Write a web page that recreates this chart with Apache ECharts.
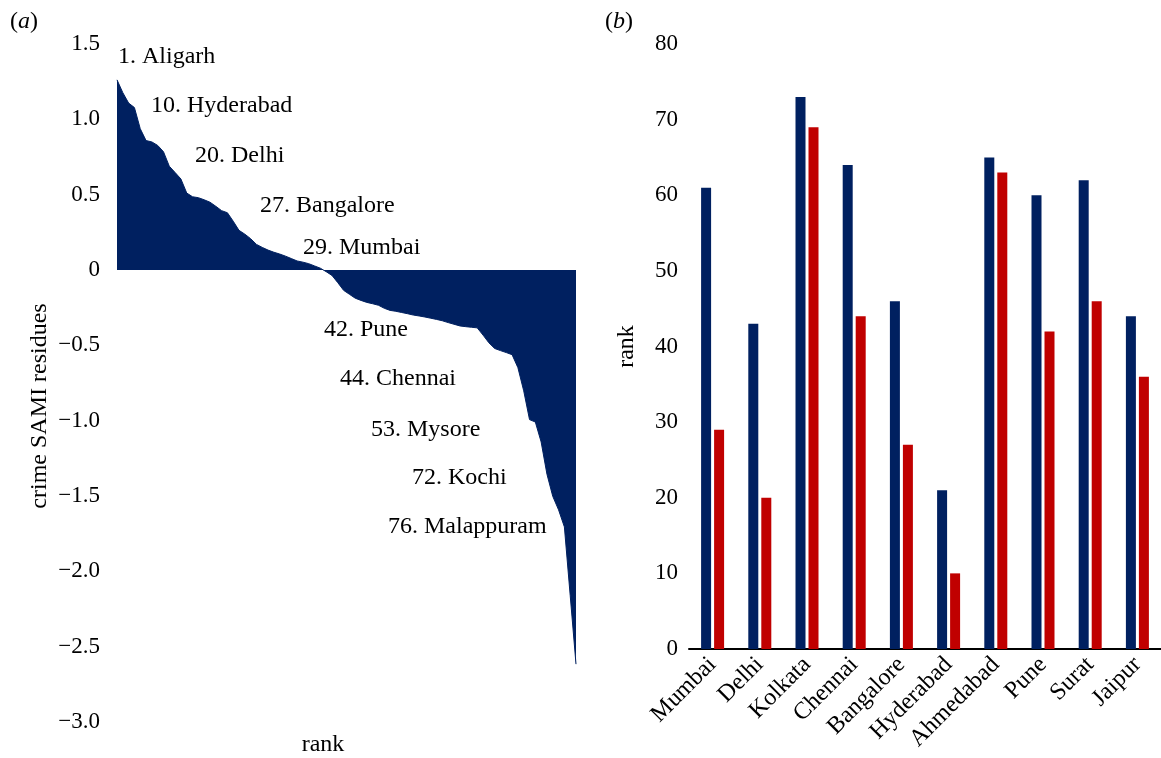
<!DOCTYPE html>
<html>
<head>
<meta charset="utf-8">
<title>Crime SAMI residues and city ranks</title>
<script src="https://cdn.jsdelivr.net/npm/echarts@6/dist/echarts.min.js"></script>
<style>
  html, body { margin: 0; padding: 0; background: #fff; }
  #chart { width: 1161px; height: 758px; }
</style>
</head>
<body>
<div id="chart"></div>
<script>
// Panel (a): crime SAMI residues for each city, sorted by rank
const samiResidues = [
  1.262, 1.177, 1.108, 1.078, 0.938, 0.859, 0.850, 0.827, 0.785, 0.689,
  0.647, 0.604, 0.511, 0.486, 0.480, 0.466, 0.450, 0.423, 0.394, 0.380,
  0.324, 0.263, 0.238, 0.208, 0.170, 0.150, 0.132, 0.118, 0.106, 0.092,
  0.076, 0.060, 0.052, 0.042, 0.027, 0.012, -0.011, -0.036, -0.084, -0.135,
  -0.161, -0.187, -0.202, -0.215, -0.224, -0.234, -0.254, -0.268, -0.274, -0.282,
  -0.290, -0.299, -0.305, -0.312, -0.320, -0.328, -0.337, -0.349, -0.360, -0.371,
  -0.376, -0.380, -0.384, -0.432, -0.483, -0.521, -0.535, -0.548, -0.562, -0.648,
  -0.802, -0.993, -1.009, -1.141, -1.355, -1.502, -1.592, -1.705, -2.160, -2.616
];
const ranks = samiResidues.map((_, i) => String(i + 1));

// Highlighted cities on panel (a)
const noteRanks = [1, 10, 20, 27, 29, 42, 44, 53, 72, 76];
const noteCities = ['Aligarh', 'Hyderabad', 'Delhi', 'Bangalore', 'Mumbai',
                    'Pune', 'Chennai', 'Mysore', 'Kochi', 'Malappuram'];

// Panel (b): ranks of the ten largest cities
const cities = ['Mumbai', 'Delhi', 'Kolkata', 'Chennai', 'Bangalore',
                'Hyderabad', 'Ahmedabad', 'Pune', 'Surat', 'Jaipur'];
const rankBlue = [61, 43, 73, 64, 46, 21, 65, 60, 62, 44];
const rankRed  = [29, 20, 69, 44, 27, 10, 63, 42, 46, 36];

const NAVY = '#002060';
const RED = '#C00000';
const FONT = '"Liberation Serif", "DejaVu Serif", serif';
const FS = 24;      // annotations, titles, category labels
const FS_TICK = 23; // value-axis tick labels

// Label placement for the panel (a) notes (left edge, vertical centre)
const notePlaces = [
  [118, 57], [151, 106], [195, 156], [260, 206], [303, 248],
  [324, 330], [340, 379], [371, 430], [412, 478], [388, 527]
];

function fmtResidue(v) {
  if (v === 0) return '0';
  return (v < 0 ? '\u2212' : '') + Math.abs(v).toFixed(1);
}

const textBase = { fontFamily: FONT, fontSize: FS, fill: '#000' };

const graphics = noteRanks.map((r, i) => ({
  type: 'text',
  x: notePlaces[i][0],
  y: notePlaces[i][1],
  style: Object.assign({ text: r + '. ' + noteCities[i], verticalAlign: 'middle', align: 'left' }, textBase)
}));

function panelTag(letter, x) {
  return {
    type: 'text', x: x, y: 22,
    style: {
      text: '({i|' + letter + '})', verticalAlign: 'middle', align: 'left',
      fontFamily: FONT, fontSize: FS, fill: '#000',
      rich: { i: { fontFamily: FONT, fontSize: FS, fontStyle: 'italic', fill: '#000' } }
    }
  };
}

graphics.push(
  {
    type: 'text', x: 40, y: 406, rotation: Math.PI / 2,
    style: Object.assign({ text: 'crime SAMI residues', align: 'center', verticalAlign: 'middle' }, textBase)
  },
  {
    type: 'text', x: 323, y: 745,
    style: Object.assign({ text: 'rank', align: 'center', verticalAlign: 'middle' }, textBase)
  },
  panelTag('a', 10),
  panelTag('b', 605)
);

const chart = echarts.init(document.getElementById('chart'), null, { renderer: 'canvas' });

chart.setOption({
  backgroundColor: '#fff',
  animation: false,
  textStyle: { fontFamily: FONT },
  grid: [
    { left: 117, top: 44, width: 459, height: 678 },
    { left: 689, top: 44, width: 472, height: 605 }
  ],
  xAxis: [
    {
      gridIndex: 0, type: 'category', data: ranks, boundaryGap: false,
      axisLine: { show: false }, axisTick: { show: false }, axisLabel: { show: false },
      splitLine: { show: false }
    },
    {
      gridIndex: 1, type: 'category', data: cities,
      axisLine: { show: true, lineStyle: { color: '#000', width: 2 } },
      axisTick: { show: false },
      axisLabel: {
        rotate: 45, margin: 12, interval: 0,
        fontFamily: FONT, fontSize: FS, color: '#000'
      },
      splitLine: { show: false }
    }
  ],
  yAxis: [
    {
      gridIndex: 0, type: 'value', min: -3, max: 1.5, interval: 0.5,
      axisLine: { show: false }, axisTick: { show: false }, splitLine: { show: false },
      axisLabel: {
        margin: 17, fontFamily: FONT, fontSize: FS_TICK, color: '#000',
        formatter: fmtResidue
      }
    },
    {
      gridIndex: 1, type: 'value', min: 0, max: 80, interval: 10,
      name: 'rank', nameLocation: 'middle', nameGap: 50, nameRotate: 90,
      nameTextStyle: { fontFamily: FONT, fontSize: FS, color: '#000' },
      axisLine: { show: false }, axisTick: { show: false }, splitLine: { show: false },
      axisLabel: { margin: 11, fontFamily: FONT, fontSize: FS_TICK, color: '#000' }
    }
  ],
  series: [
    {
      type: 'line', xAxisIndex: 0, yAxisIndex: 0,
      data: samiResidues,
      symbol: 'none', smooth: false,
      lineStyle: { color: NAVY, width: 1 },
      areaStyle: { color: NAVY, opacity: 1, origin: 0 }
    },
    {
      type: 'bar', xAxisIndex: 1, yAxisIndex: 1,
      data: rankBlue, barWidth: 10, barGap: '30%',
      itemStyle: { color: NAVY }
    },
    {
      type: 'bar', xAxisIndex: 1, yAxisIndex: 1,
      data: rankRed, barWidth: 10, barGap: '30%',
      itemStyle: { color: RED }
    }
  ],
  graphic: graphics
});
</script>
</body>
</html>
